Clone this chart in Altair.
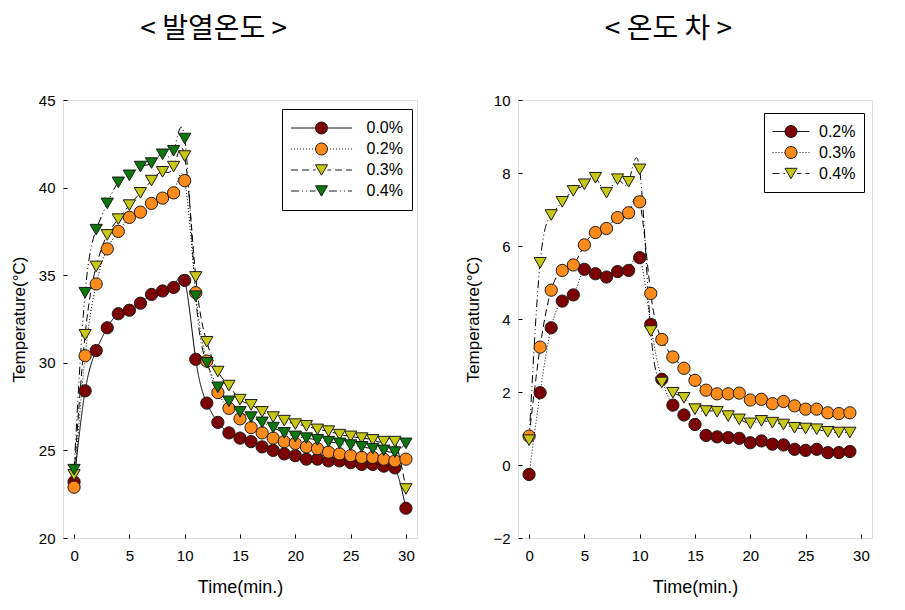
import math
import altair as alt
import pandas as pd

# ---------------- data ----------------
time_left = list(range(31))
series_left = ["0.0%", "0.2%", "0.3%", "0.4%"]
left_00 = [23.2, 28.4, 30.7, 32.0, 32.8, 33.0, 33.4, 33.9, 34.1, 34.3, 34.7, 30.2, 27.7, 26.6, 26.0, 25.7,
           25.5, 25.2, 25.0, 24.8, 24.7, 24.5, 24.5, 24.4, 24.4, 24.3, 24.2, 24.2, 24.1, 24.0, 21.7]
left_02 = [22.9, 30.4, 34.5, 36.5, 37.5, 38.3, 38.6, 39.1, 39.4, 39.7, 40.4, 34.0, 30.1, 28.3, 27.4, 26.8,
           26.3, 26.0, 25.7, 25.5, 25.4, 25.2, 25.1, 24.9, 24.8, 24.7, 24.6, 24.6, 24.5, 24.4, 24.5]
left_03 = [23.6, 31.6, 35.5, 37.3, 38.2, 39.0, 39.7, 40.4, 40.9, 41.2, 41.8, 34.9, 31.2, 29.5, 28.7, 27.9,
           27.6, 27.2, 26.9, 26.7, 26.5, 26.4, 26.2, 26.1, 25.9, 25.8, 25.7, 25.6, 25.5, 25.5, 22.8]
left_04 = [23.9, 34.0, 37.6, 39.1, 40.3, 40.7, 41.2, 41.4, 41.9, 42.1, 42.8, 33.8, 30.0, 28.6, 27.8, 27.2,
           26.9, 26.6, 26.3, 26.0, 25.8, 25.7, 25.6, 25.5, 25.4, 25.3, 25.2, 25.1, 25.0, 24.9, 25.4]

time_right = list(range(30))
series_right = ["0.2%", "0.3%", "0.4%"]
right_02 = [-0.26, 1.98, 3.76, 4.49, 4.66, 5.36, 5.24, 5.15, 5.30, 5.33, 5.68, 3.85, 2.35, 1.64, 1.37,
            1.11, 0.81, 0.77, 0.75, 0.73, 0.61, 0.66, 0.57, 0.55, 0.43, 0.40, 0.43, 0.34, 0.34, 0.37]
right_03 = [0.79, 3.23, 4.79, 5.33, 5.48, 6.03, 6.37, 6.48, 6.78, 6.91, 7.21, 4.70, 3.44, 2.96, 2.65,
            2.32, 2.05, 1.95, 1.95, 1.97, 1.78, 1.80, 1.68, 1.74, 1.62, 1.53, 1.53, 1.43, 1.41, 1.43]
right_04 = [0.68, 5.54, 6.85, 7.21, 7.51, 7.69, 7.87, 7.46, 7.83, 7.76, 8.10, 3.67, 2.26, 1.98, 1.84,
            1.53, 1.48, 1.46, 1.34, 1.25, 1.14, 1.21, 1.16, 1.11, 1.02, 1.00, 0.98, 0.91, 0.89, 0.89]

x_ticks = [0, 5, 10, 15, 20, 25, 30]
y_ticks_left = [20, 25, 30, 35, 40, 45]
y_ticks_right = [-2, 0, 2, 4, 6, 8, 10]

title_left = "< 발열온도 >"
title_right = "< 온도 차 >"

# ---------------- styles ----------------
FONT = "Arial, Liberation Sans"
KFONT = "Noto Sans CJK KR"
C_MAROON = "#7d0000"
C_ORANGE = "#ff8c1a"
C_YELLOW = "#c8c814"
C_GREEN = "#0a780a"
OUTLINE = "#1a1a1a"

PAT_SOLID = [400, 0]
PAT_DOT = [1, 2]
PAT_DASH = [7, 4]
PAT_DDOT = [8, 3, 1, 3, 1, 3]


def legend_symbol(width_px, marker, pattern, msize=12.0):
    """Custom legend symbol path: a patterned line with a marker in the middle."""
    half = width_px / 2.0
    m = msize / 2.0
    segs = []
    x = -half
    i = 0
    while x < half - 1e-6:
        L = pattern[i % len(pattern)]
        x2 = min(x + L, half)
        if i % 2 == 0 and L > 0:
            for a, b in ((x, min(x2, -m)), (max(x, m), x2)):
                if b - a > 0.05:
                    segs.append(f"M{a/half:.4f},0L{b/half:.4f},0")
        x = x2
        i += 1
    if marker == "circle":
        pts = []
        for k in range(24):
            t = 2 * math.pi * k / 24
            pts.append((m * math.cos(t) / half, m * math.sin(t) / half))
    else:
        h = m * math.sqrt(3) / 2
        pts = [(-m / half, -h / half), (m / half, -h / half), (0, h / half)]
    poly = "M" + "L".join(f"{px:.4f},{py:.4f}" for px, py in pts) + "Z"
    return "".join(segs) + poly


def make_df(times, series, values):
    rows = []
    for s, vals in zip(series, values):
        for t, v in zip(times, vals):
            rows.append({"time": t, "temp": v, "series": s})
    return pd.DataFrame(rows)


def panel(df, series, colors, shapes, dashes, patterns, y_domain, y_ticks, title,
          legend_x, legend_y, legend_w, legend_pad, label_offset):
    xenc = alt.X("time:Q",
                 scale=alt.Scale(domain=[-1, 31], nice=False, zero=False),
                 axis=alt.Axis(values=x_ticks, title="Time(min.)", tickSize=4, offset=-4,
                               domain=False, grid=False, labelFontSize=15, labelFont=FONT,
                               labelPadding=10, titleFontSize=18, titleFont=FONT,
                               titleFontWeight="normal", titlePadding=15, tickColor="black",
                               labelColor="black", titleColor="black", labelFlush=False,
                               labelOverlap=False, format="d"))
    yenc = alt.Y("temp:Q",
                 scale=alt.Scale(domain=y_domain, nice=False, zero=False),
                 axis=alt.Axis(values=y_ticks, title="Temperature(\u00b0C)", tickSize=4, offset=-4,
                               domain=False, grid=False, labelFontSize=15, labelFont=FONT,
                               labelPadding=8, titleFontSize=17, titleFont=FONT,
                               titleFontWeight="normal", titlePadding=10, tickColor="black",
                               labelColor="black", titleColor="black", labelFlush=False,
                               labelOverlap=False, format="d"))
    base = alt.Chart(df).encode(x=xenc, y=yenc)

    lines = base.mark_line(interpolate="natural", color="black", strokeWidth=1, clip=True).encode(
        strokeDash=alt.StrokeDash("series:N", scale=alt.Scale(domain=series, range=dashes), legend=None),
        detail="series:N",
    )
    points = base.mark_point(filled=True, size=150, stroke=OUTLINE, strokeWidth=1, opacity=1).encode(
        shape=alt.Shape("series:N", scale=alt.Scale(domain=series, range=shapes), legend=None),
        fill=alt.Fill("series:N", scale=alt.Scale(domain=series, range=colors), legend=None),
    )
    sym_paths = [legend_symbol(legend_w, shp, pat) for shp, pat in zip(shapes, patterns)]
    leg = alt.Legend(orient="none", legendX=legend_x, legendY=legend_y, title=None,
                     symbolSize=legend_w * legend_w, clipHeight=21, labelFontSize=16,
                     labelFont=FONT, labelColor="black", labelOffset=label_offset,
                     padding=legend_pad, strokeColor="black", fillColor="white", rowPadding=0,
                     symbolStrokeWidth=1, symbolOpacity=1, cornerRadius=0)
    legend_layer = base.transform_filter("false").mark_point(
        filled=True, size=150, stroke=OUTLINE, strokeWidth=1, opacity=1).encode(
        shape=alt.Shape("series:N", scale=alt.Scale(domain=series, range=sym_paths), legend=leg),
        fill=alt.Fill("series:N", scale=alt.Scale(domain=series, range=colors), legend=leg),
    )
    return alt.layer(lines, points, legend_layer).resolve_scale(
        shape="independent", fill="independent"
    ).properties(
        width=354, height=438,
        title=alt.TitleParams(title, font=KFONT, fontSize=28, fontWeight="normal", anchor="middle",
                              frame="bounds", offset=27, baseline="alphabetic", color="black"),
    )


df_left = make_df(time_left, series_left, [left_00, left_02, left_03, left_04])
df_right = make_df(time_right, series_right, [right_02, right_03, right_04])

left = panel(df_left, series_left,
             [C_MAROON, C_ORANGE, C_YELLOW, C_GREEN],
             ["circle", "circle", "triangle-down", "triangle-down"],
             [[1, 0], [1, 2], [7, 4], [8, 3, 1, 3, 1, 3]],
             [PAT_SOLID, PAT_DOT, PAT_DASH, PAT_DDOT],
             [20, 45], y_ticks_left, title_left, 219, 9, 61, 8.5, 14)

right = panel(df_right, series_right,
              [C_MAROON, C_ORANGE, C_YELLOW],
              ["circle", "circle", "triangle-down"],
              [[1, 0], [1, 2], [7, 4]],
              [PAT_SOLID, PAT_DOT, PAT_DASH],
              [-2, 10], y_ticks_right, title_right, 246, 13, 37, 8, 9)

chart = alt.hconcat(left, right, spacing=46).properties(
    padding={"left": 1, "top": 7, "right": 0, "bottom": 0}
).configure_view(stroke="black", strokeWidth=1).configure(background="white")

chart.save("out.html", embed_options={"renderer": "svg", "actions": False})
